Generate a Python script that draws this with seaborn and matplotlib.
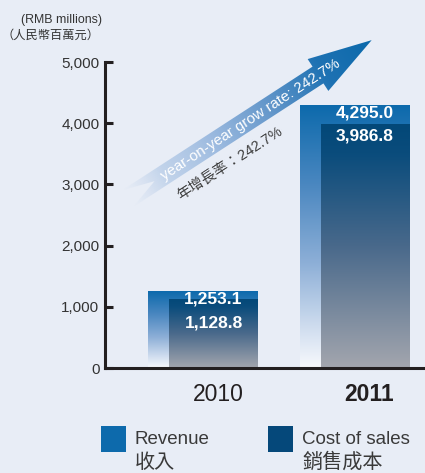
import numpy as np
import matplotlib
matplotlib.use("Agg")
import matplotlib.pyplot as plt
import seaborn as sns
from matplotlib.colors import LinearSegmentedColormap, to_rgba
from matplotlib.patches import Polygon, Rectangle
from matplotlib.transforms import ScaledTranslation

# data
years = ['2010', '2011']
revenue = [1253.1, 4295.0]
cost_of_sales = [1128.8, 3986.8]
y_ticks = [0, 1000, 2000, 3000, 4000, 5000]
growth_en = 'year-on-year grow rate: 242.7%'
growth_zh = '年增長率：242.7%'
legend_en = ['Revenue', 'Cost of sales']
legend_zh = ['收入', '銷售成本']
unit_en = '(RMB millions)'
unit_zh = '（人民幣百萬元）'

sns.set_style('white')
plt.rcParams['font.family'] = ['Liberation Sans', 'Noto Sans CJK TC']

bg = '#E8EDF6'
rev_color = '#0D6AAC'
cost_color = '#05487A'
ink = '#231F20'
txt = '#3a3a3a'

fig = plt.figure(figsize=(4.25, 4.73), dpi=100, facecolor=bg)
ax = fig.add_axes([105 / 425, 1 - 368 / 473, 320 / 425, 306 / 473])
ax.set_facecolor(bg)

bar_w, cost_w = 0.726, 0.587
shift = (bar_w - cost_w) / 2
sns.barplot(x=years, y=revenue, width=bar_w, color=rev_color, ax=ax, linewidth=0)
sns.barplot(x=years, y=cost_of_sales, width=cost_w, color=cost_color, ax=ax, linewidth=0)

rev_cmap = LinearSegmentedColormap.from_list(
    'rev', [(0, '#0D6AAC'), (0.3, '#4A87C0'), (0.6, '#8DAFD7'), (0.88, '#D8E3F2'), (1, '#F7F9FC')])
cost_cmap = LinearSegmentedColormap.from_list(
    'cost', [(0, '#034878'), (0.12, '#0A4C7C'), (0.5, '#49698B'), (1, '#A3A6AE')])

grad = np.linspace(0, 1, 256).reshape(-1, 1)
bars = list(ax.patches)
for k, p in enumerate(bars):
    is_cost = k >= len(years)
    if is_cost:
        p.set_x(p.get_x() + shift)
    z = 3 if is_cost else 2
    p.set_zorder(z)
    x0, y0, w, h = p.get_x(), p.get_y(), p.get_width(), p.get_height()
    im = ax.imshow(grad, cmap=cost_cmap if is_cost else rev_cmap,
                   extent=[x0, x0 + w, y0, y0 + h], aspect='auto',
                   origin='upper', zorder=z, interpolation='bicubic')
    im.set_clip_path(p)
    p.set_facecolor('none')

ax.set_xlim(-0.647, 1.465)
ax.set_ylim(0, 5000)
ax.set_xlabel('')
ax.set_ylabel('')

for s in ['top', 'right']:
    ax.spines[s].set_visible(False)
for s in ['left', 'bottom']:
    ax.spines[s].set_linewidth(2.2)
    ax.spines[s].set_color(ink)
    ax.spines[s].set_zorder(4)

ax.set_yticks(y_ticks)
ax.set_yticklabels([f'{v:,}' for v in y_ticks])
ax.tick_params(axis='y', left=True, direction='in', length=6, width=2.2, color=ink,
               labelsize=11, labelcolor='#333333', pad=4)
ax.tick_params(axis='x', bottom=False, length=0, labelsize=16.5, pad=11, labelcolor=ink)
offset = ScaledTranslation(15 / 100, 0, fig.dpi_scale_trans)
for lbl in ax.get_xticklabels():
    lbl.set_transform(lbl.get_transform() + offset)
ax.get_xticklabels()[1].set_fontweight('bold')

# value labels
for i in range(len(years)):
    xc = i + shift
    ax.annotate(f'{revenue[i]:,.1f}', (xc, revenue[i]), xytext=(0, -5.5),
                textcoords='offset points', ha='center', va='center',
                color='white', fontweight='bold', fontsize=12.5, zorder=6)
    ax.annotate(f'{cost_of_sales[i]:,.1f}', (xc, revenue[i]), xytext=(0, -22.5),
                textcoords='offset points', ha='center', va='center',
                color='white', fontweight='bold', fontsize=12.5, zorder=6)

# overlay in pixel coords for arrow, units and legend
ov = fig.add_axes([0, 0, 1, 1], zorder=5)
ov.patch.set_alpha(0)
ov.axis('off')

O = np.array([318.0, 75.0])
ang = np.deg2rad(33)
u = np.array([np.cos(ang), -np.sin(ang)])
n = np.array([np.sin(ang), np.cos(ang)])
shape = [(64, 0), (0, -19), (0, -10), (-227, -10), (-195, 0), (-227, 10), (0, 10), (0, 19)]
pts = [O + s * u + w * n for s, w in shape]
poly = Polygon(pts, closed=True, facecolor='none', edgecolor='none')
ov.add_patch(poly)

arrow_cmap = LinearSegmentedColormap.from_list('arrow', [
    (0, to_rgba('#C9D8EE', 0)), (0.15, to_rgba('#B8CDE8', 0.8)),
    (0.35, to_rgba('#9DBBE0', 1)), (0.6, to_rgba('#5D93C8', 1)),
    (0.8, to_rgba('#1E72B3', 1)), (1, to_rgba('#0B69AB', 1))])
yy, xx = np.mgrid[0:473, 0:425] + 0.5
sv = (xx - O[0]) * u[0] + (yy - O[1]) * u[1]
t = np.clip((sv + 227) / (64 + 227), 0, 1)
aim = ov.imshow(arrow_cmap(t), extent=(0, 425, 473, 0), origin='upper',
                interpolation='nearest', aspect='auto', zorder=1)
aim.set_clip_path(poly)
ov.set_xlim(0, 425)
ov.set_ylim(473, 0)

ov.text(251, 120, growth_en, rotation=33, rotation_mode='anchor', ha='center',
        va='center', color='white', fontsize=10.8, zorder=3)
ov.text(230, 163, growth_zh, rotation=33, rotation_mode='anchor', ha='center',
        va='center', color='#3d3d3d', fontsize=10.5, zorder=3)

ov.text(62, 20, unit_en, ha='center', va='center', fontsize=8.9, color='#333333')
ov.text(51, 36, unit_zh, ha='center', va='center', fontsize=8.8, color='#333333')

# legend
for x, c, en, zh in zip([101, 268], [rev_color, cost_color], legend_en, legend_zh):
    ov.add_patch(Rectangle((x, 426), 25, 26, facecolor=c, edgecolor='none'))
    ov.text(x + 34, 439, en, ha='left', va='center', fontsize=13.5, color=txt)
    ov.text(x + 34, 462, zh, ha='left', va='center', fontsize=14.5, color=txt)

fig.savefig('out.png', dpi=100, facecolor=bg)
